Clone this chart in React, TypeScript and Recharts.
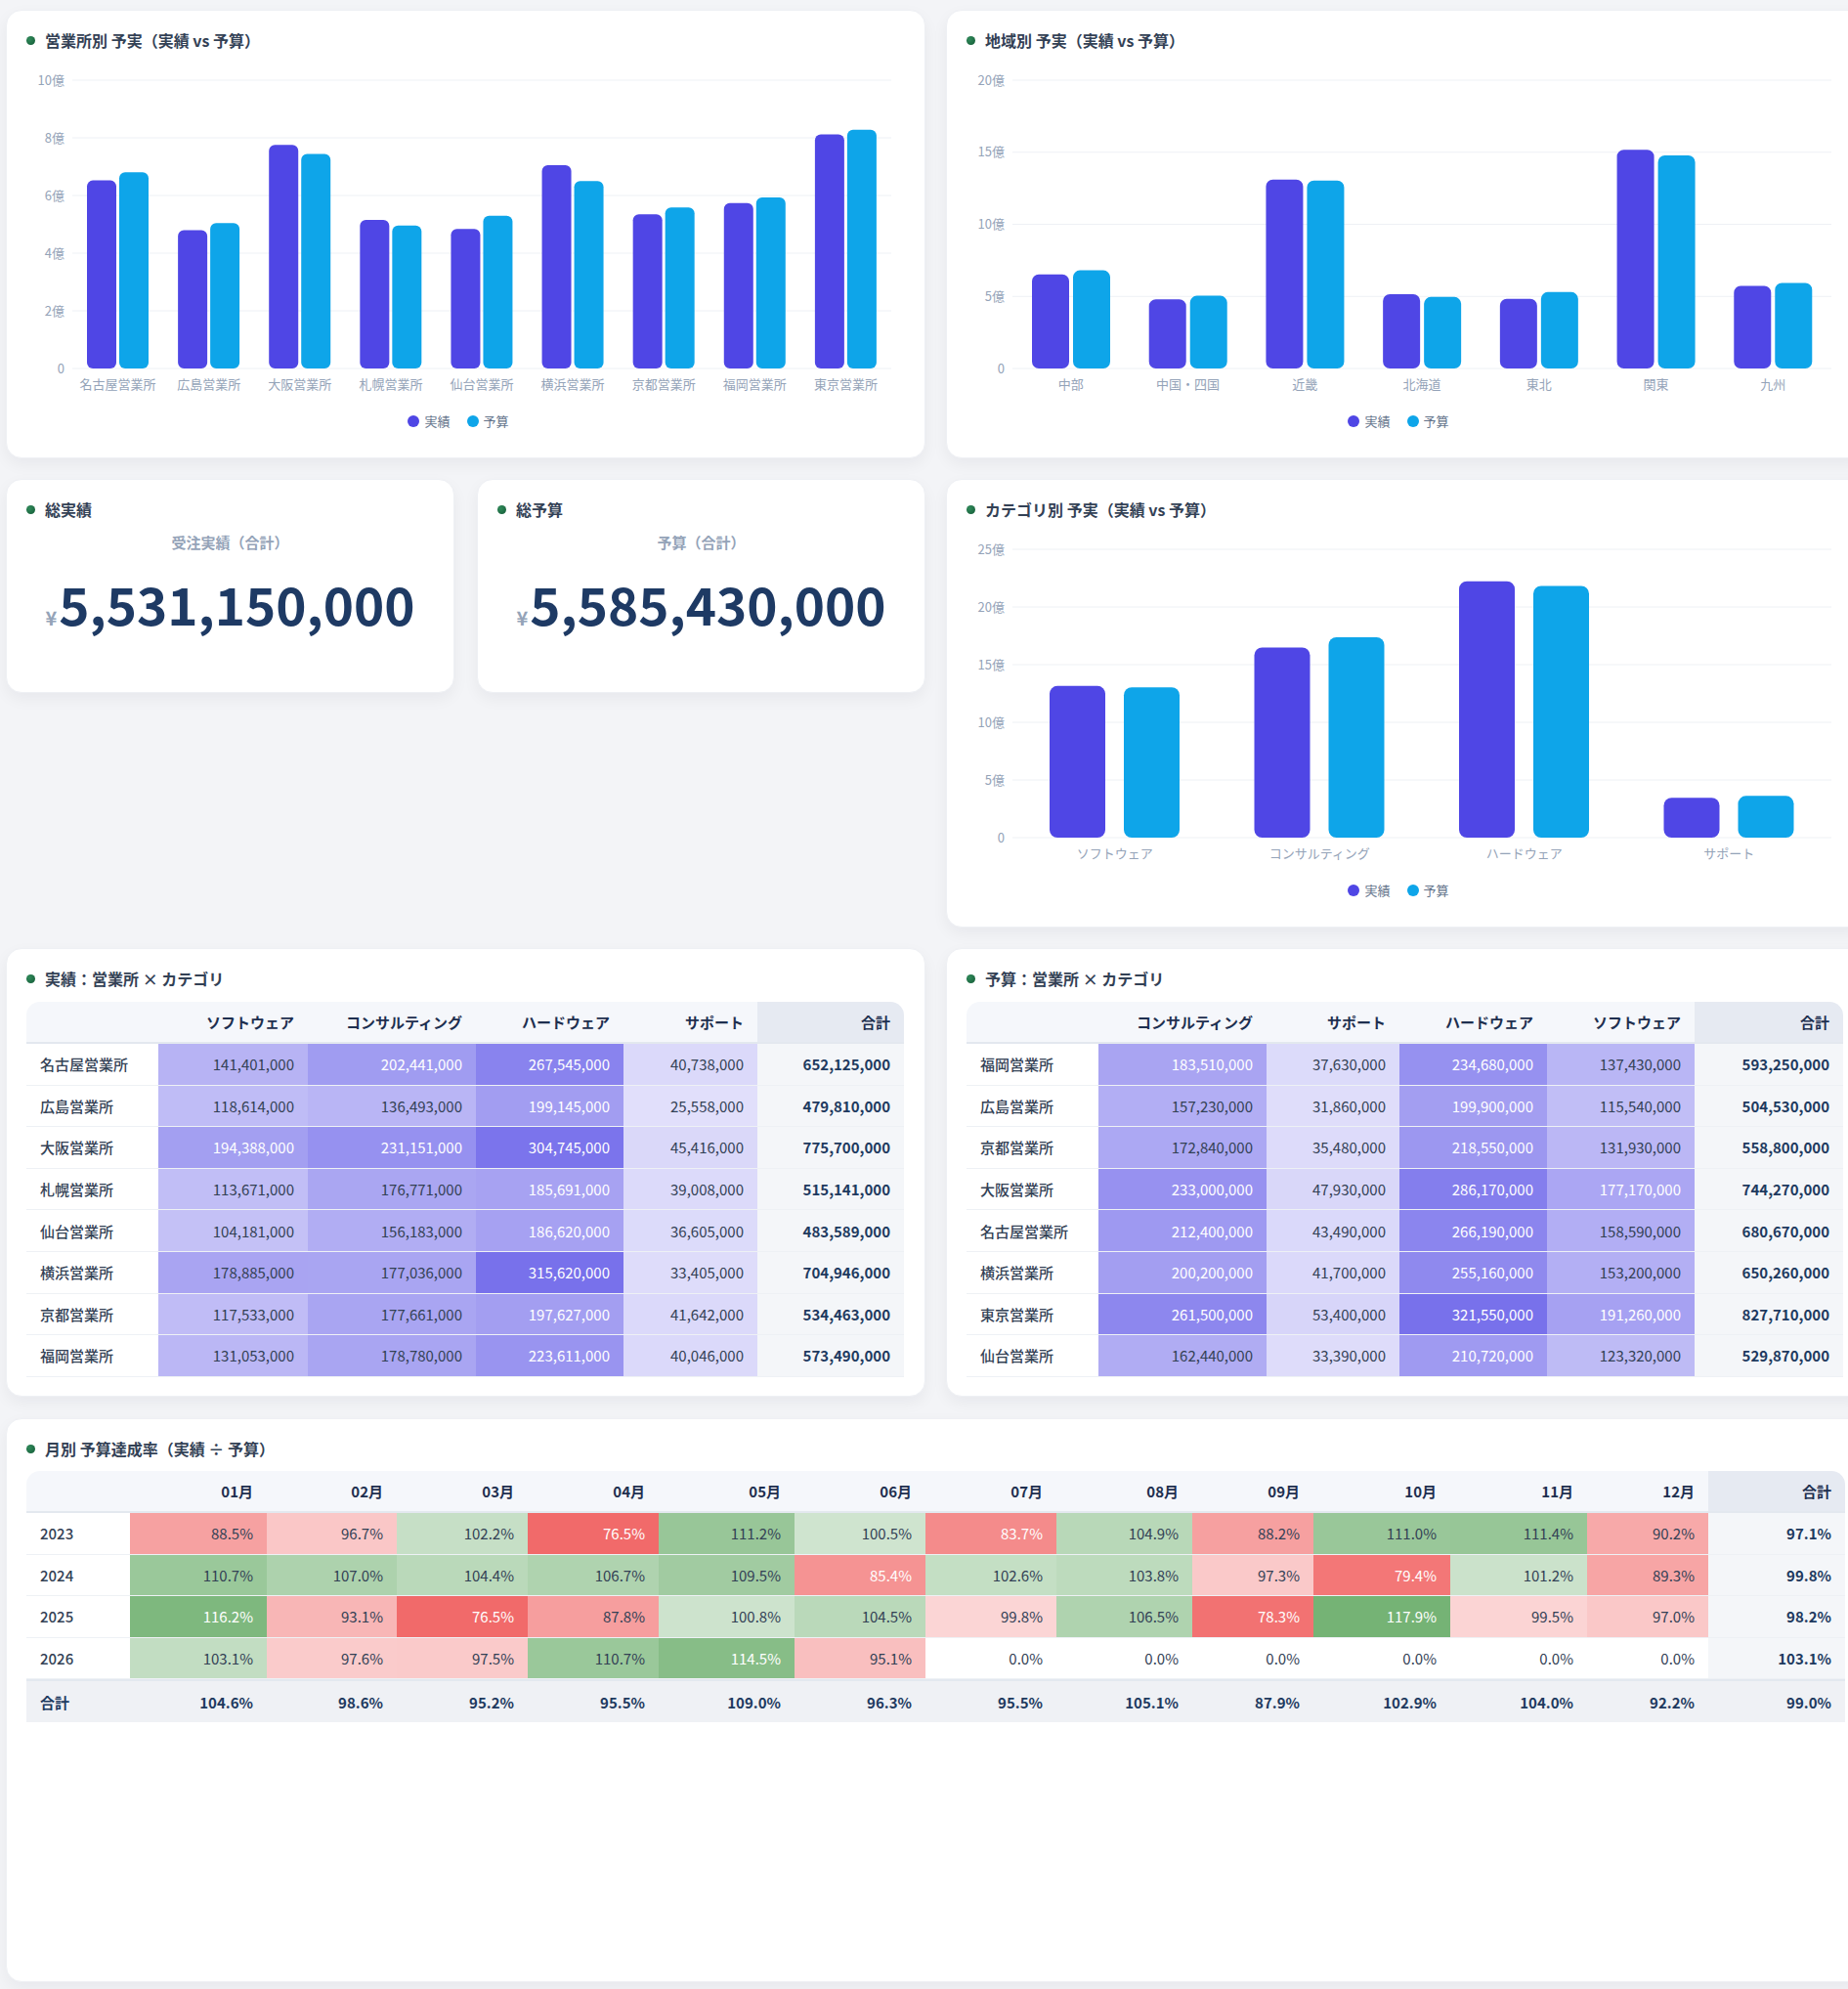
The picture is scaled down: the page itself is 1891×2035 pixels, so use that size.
import React from 'react';
import { BarChart, Bar, XAxis, YAxis, CartesianGrid, Legend } from 'recharts';

const ACTUAL_COLOR = '#4f46e5';
const BUDGET_COLOR = '#0ea5e9';
const FONT = '"Noto Sans CJK JP", "Noto Sans", sans-serif';

// 営業所別（円）
const offices = ['名古屋営業所', '広島営業所', '大阪営業所', '札幌営業所', '仙台営業所', '横浜営業所', '京都営業所', '福岡営業所', '東京営業所'];
const officeActual = [652125000, 479810000, 775700000, 515141000, 483589000, 704946000, 534463000, 573490000, 811886000];
const officeBudget = [680670000, 504530000, 744270000, 496070000, 529870000, 650260000, 558800000, 593250000, 827710000];

// 地域別（円）
const regions = ['中部', '中国・四国', '近畿', '北海道', '東北', '関東', '九州'];
const regionActual = [652125000, 479810000, 1310163000, 515141000, 483589000, 1516832000, 573490000];
const regionBudget = [680670000, 504530000, 1303070000, 496070000, 529870000, 1477970000, 593250000];

// カテゴリ別（円）
const categories = ['ソフトウェア', 'コンサルティング', 'ハードウェア', 'サポート'];
const categoryActual = [1314726000, 1648516000, 2222604000, 345304000];
const categoryBudget = [1303510000, 1737120000, 2182920000, 361880000];

const totalActual = 5531150000;
const totalBudget = 5585430000;

// 実績：営業所 × カテゴリ
const actualCols = ['ソフトウェア', 'コンサルティング', 'ハードウェア', 'サポート'];
const actualRowNames = ['名古屋営業所', '広島営業所', '大阪営業所', '札幌営業所', '仙台営業所', '横浜営業所', '京都営業所', '福岡営業所'];
const actualCells = [
    [141401000, 202441000, 267545000, 40738000],
    [118614000, 136493000, 199145000, 25558000],
    [194388000, 231151000, 304745000, 45416000],
    [113671000, 176771000, 185691000, 39008000],
    [104181000, 156183000, 186620000, 36605000],
    [178885000, 177036000, 315620000, 33405000],
    [117533000, 177661000, 197627000, 41642000],
    [131053000, 178780000, 223611000, 40046000],
];

// 予算：営業所 × カテゴリ
const budgetCols = ['コンサルティング', 'サポート', 'ハードウェア', 'ソフトウェア'];
const budgetRowNames = ['福岡営業所', '広島営業所', '京都営業所', '大阪営業所', '名古屋営業所', '横浜営業所', '東京営業所', '仙台営業所'];
const budgetCells = [
    [183510000, 37630000, 234680000, 137430000],
    [157230000, 31860000, 199900000, 115540000],
    [172840000, 35480000, 218550000, 131930000],
    [233000000, 47930000, 286170000, 177170000],
    [212400000, 43490000, 266190000, 158590000],
    [200200000, 41700000, 255160000, 153200000],
    [261500000, 53400000, 321550000, 191260000],
    [162440000, 33390000, 210720000, 123320000],
];

// 月別 予算達成率（%）
const months = ['01月', '02月', '03月', '04月', '05月', '06月', '07月', '08月', '09月', '10月', '11月', '12月'];
const years = ['2023', '2024', '2025', '2026'];
const monthlyRates = [
    [88.5, 96.7, 102.2, 76.5, 111.2, 100.5, 83.7, 104.9, 88.2, 111.0, 111.4, 90.2],
    [110.7, 107.0, 104.4, 106.7, 109.5, 85.4, 102.6, 103.8, 97.3, 79.4, 101.2, 89.3],
    [116.2, 93.1, 76.5, 87.8, 100.8, 104.5, 99.8, 106.5, 78.3, 117.9, 99.5, 97.0],
    [103.1, 97.6, 97.5, 110.7, 114.5, 95.1, 0, 0, 0, 0, 0, 0],
];
const yearTotals = [97.1, 99.8, 98.2, 103.1];
const monthTotals = [104.6, 98.6, 95.2, 95.5, 109.0, 96.3, 95.5, 105.1, 87.9, 102.9, 104.0, 92.2];
const grandTotal = 99.0;

const officeData = offices.map((name, i) => ({ name, actual: officeActual[i], budget: officeBudget[i] }));
const regionData = regions.map((name, i) => ({ name, actual: regionActual[i], budget: regionBudget[i] }));
const categoryData = categories.map((name, i) => ({ name, actual: categoryActual[i], budget: categoryBudget[i] }));

const yen = (v: number) => v.toLocaleString('ja-JP');
const oku = (v: number) => (v === 0 ? '0' : `${v / 1e8}億`);

const LEGEND_ORDER = ['実績', '予算'];

const renderLegend = (props: any) => {
    const items = [...(props.payload || [])].sort((a: any, b: any) => LEGEND_ORDER.indexOf(a.value) - LEGEND_ORDER.indexOf(b.value));
    return (
        <div style={{ display: 'flex', justifyContent: 'center', gap: 17, paddingTop: 14, fontSize: 13, lineHeight: '20px', color: '#64748b' }}>
            {items.map((p: any) => (
                <span key={p.value} style={{ display: 'flex', alignItems: 'center', gap: 5 }}>
                    <span style={{ width: 12, height: 12, borderRadius: 6, background: p.color, display: 'inline-block' }} />
                    {p.value}
                </span>
            ))}
        </div>
    );
};

function Card({ title, left, top, width, height, children }: any) {
    return (
        <div style={{
            position: 'absolute', left, top, width, height, background: '#fff', borderRadius: 16,
            border: '1px solid #eef0f4', boxSizing: 'border-box', boxShadow: '0 6px 16px rgba(15,23,42,0.05)', overflow: 'hidden'
        }}>
            <div style={{ position: 'absolute', left: 20, top: 20, height: 20, display: 'flex', alignItems: 'center' }}>
                <span style={{ width: 9, height: 9, borderRadius: 5, background: 'radial-gradient(circle at 35% 35%, #2f8a5a, #145a36)', marginRight: 10 }} />
                <span style={{ fontSize: 16, fontWeight: 700, color: '#334155' }}>{title}</span>
            </div>
            {children}
        </div>
    );
}

function PlanChart({ data, max, ticks, barSize, barGap, radius }: any) {
    return (
        <div style={{ position: 'absolute', left: -1, top: 51 }}>
            <BarChart width={941} height={407} data={data} margin={{ top: 20, right: 35, left: 20, bottom: 0 }} barSize={barSize} barGap={barGap}>
                <CartesianGrid vertical={false} stroke="#eef1f5" />
                <XAxis dataKey="name" axisLine={false} tickLine={false} interval={0} tickMargin={6} tick={{ fill: '#94a3b8', fontSize: 13 }} />
                <YAxis width={48} domain={[0, max]} ticks={ticks} tickFormatter={oku} axisLine={false} tickLine={false} tick={{ fill: '#94a3b8', fontSize: 13 }} />
                <Legend verticalAlign="bottom" height={62} content={renderLegend} />
                <Bar dataKey="actual" name="実績" fill={ACTUAL_COLOR} radius={radius} isAnimationActive={false} />
                <Bar dataKey="budget" name="予算" fill={BUDGET_COLOR} radius={radius} isAnimationActive={false} />
            </BarChart>
        </div>
    );
}

function Kpi({ title, label, value, left }: any) {
    return (
        <Card title={title} left={left} top={490} width={459} height={219}>
            <div style={{ position: 'absolute', left: 0, right: 0, top: 54, textAlign: 'center', fontSize: 15, fontWeight: 700, color: '#94a3b8', lineHeight: '20px' }}>{label}</div>
            <div style={{ position: 'absolute', left: 0, right: 0, top: 94, textAlign: 'center', lineHeight: '64px', whiteSpace: 'nowrap' }}>
                <span style={{ fontSize: 20, fontWeight: 700, color: '#94a3b8', marginRight: 2 }}>¥</span>
                <span style={{ fontSize: 53, fontWeight: 700, color: '#1e3a64' }}>{yen(value)}</span>
            </div>
        </Card>
    );
}

const th: React.CSSProperties = {
    background: '#f5f7fb', color: '#1e2f4f', fontWeight: 700, fontSize: 15, textAlign: 'right',
    padding: '0 14px', height: 41, borderBottom: '2px solid #e3e8ef', whiteSpace: 'nowrap'
};
const td: React.CSSProperties = {
    fontSize: 15, textAlign: 'right', padding: '0 14px', height: 41.6, borderBottom: '1px solid #eef1f5', whiteSpace: 'nowrap'
};

function HeatTable({ cols, rowNames, cells, widths, whiteAt }: any) {
    const max = Math.max(...cells.flat());
    const tableWidth = widths.reduce((a: number, b: number) => a + b, 0);
    return (
        <table style={{ position: 'absolute', left: 20, top: 54, width: tableWidth, tableLayout: 'fixed', borderCollapse: 'separate', borderSpacing: 0 }}>
            <colgroup>{widths.map((w: number, i: number) => <col key={i} style={{ width: w }} />)}</colgroup>
            <thead>
                <tr>
                    <th style={{ ...th, borderTopLeftRadius: 14 }} />
                    {cols.map((c: string) => <th key={c} style={th}>{c}</th>)}
                    <th style={{ ...th, background: '#e6eaf2', borderTopRightRadius: 14 }}>合計</th>
                </tr>
            </thead>
            <tbody>
                {rowNames.map((name: string, r: number) => {
                    const row = cells[r];
                    const sum = row.reduce((a: number, b: number) => a + b, 0);
                    return (
                        <tr key={name}>
                            <td style={{ ...td, textAlign: 'left', color: '#334155', fontWeight: 500, background: '#fff' }}>{name}</td>
                            {row.map((v: number, c: number) => {
                                const ratio = v / max;
                                return (
                                    <td key={c} style={{ ...td, background: `rgba(79,70,229,${0.12 + 0.65 * ratio})`, color: ratio >= whiteAt ? '#fff' : '#334155' }}>{yen(v)}</td>
                                );
                            })}
                            <td style={{ ...td, background: '#f4f6f9', color: '#1e3a5f', fontWeight: 700 }}>{yen(sum)}</td>
                        </tr>
                    );
                })}
            </tbody>
        </table>
    );
}

function rateStyle(v: number): React.CSSProperties {
    if (v === 0) return { background: '#fff', color: '#334155' };
    const dev = Math.abs(v - 100);
    const a = Math.min(0.8, 0.22 + 0.0245 * dev);
    const base = v >= 100 ? '46,140,46' : '238,68,68';
    return { background: `rgba(${base},${a})`, color: dev > 12.5 ? '#fff' : '#334155' };
}

const monthWidths = [106, 140, 133, 134, 134, 139, 134, 134, 139, 124, 140, 140, 124, 140];

function MonthlyTable() {
    const tableWidth = monthWidths.reduce((a, b) => a + b, 0);
    const totalRow: React.CSSProperties = { ...td, height: 42, background: '#eff1f5', color: '#1e3a5f', fontWeight: 700, borderTop: '2px solid #e3e8ef', borderBottom: 'none' };
    return (
        <table style={{ position: 'absolute', left: 20, top: 53, width: tableWidth, tableLayout: 'fixed', borderCollapse: 'separate', borderSpacing: 0 }}>
            <colgroup>{monthWidths.map((w, i) => <col key={i} style={{ width: w }} />)}</colgroup>
            <thead>
                <tr>
                    <th style={{ ...th, borderTopLeftRadius: 14 }} />
                    {months.map((m) => <th key={m} style={th}>{m}</th>)}
                    <th style={{ ...th, background: '#e6eaf2', borderTopRightRadius: 14 }}>合計</th>
                </tr>
            </thead>
            <tbody>
                {years.map((y, r) => (
                    <tr key={y}>
                        <td style={{ ...td, textAlign: 'left', color: '#334155', fontWeight: 500, background: '#fff' }}>{y}</td>
                        {monthlyRates[r].map((v, c) => (
                            <td key={c} style={{ ...td, ...rateStyle(v) }}>{v.toFixed(1)}%</td>
                        ))}
                        <td style={{ ...td, background: '#f4f6f9', color: '#1e3a5f', fontWeight: 700 }}>{yearTotals[r].toFixed(1)}%</td>
                    </tr>
                ))}
                <tr>
                    <td style={{ ...totalRow, textAlign: 'left' }}>合計</td>
                    {monthTotals.map((v, c) => <td key={c} style={totalRow}>{v.toFixed(1)}%</td>)}
                    <td style={totalRow}>{grandTotal.toFixed(1)}%</td>
                </tr>
            </tbody>
        </table>
    );
}

export default function App() {
    return (
        <div style={{ position: 'relative', width: 1920, height: 2035, fontFamily: FONT, background: '#f3f4f7' }}>
            <style>{`html, body { margin: 0; overflow: hidden; background: #f3f4f7; }`}</style>

            <Card title="営業所別 予実（実績 vs 予算）" left={6} top={10} width={941} height={459}>
                <PlanChart data={officeData} max={1e9} ticks={[0, 2e8, 4e8, 6e8, 8e8, 1e9]} barSize={30} barGap={3} radius={6} />
            </Card>

            <Card title="地域別 予実（実績 vs 予算）" left={968} top={10} width={941} height={459}>
                <PlanChart data={regionData} max={2e9} ticks={[0, 5e8, 1e9, 1.5e9, 2e9]} barSize={38} barGap={4} radius={7} />
            </Card>

            <Kpi title="総実績" label="受注実績（合計）" value={totalActual} left={6} />
            <Kpi title="総予算" label="予算（合計）" value={totalBudget} left={488} />

            <Card title="カテゴリ別 予実（実績 vs 予算）" left={968} top={490} width={941} height={459}>
                <PlanChart data={categoryData} max={2.5e9} ticks={[0, 5e8, 1e9, 1.5e9, 2e9, 2.5e9]} barSize={57} barGap={19} radius={8} />
            </Card>

            <Card title="実績：営業所 × カテゴリ" left={6} top={970} width={941} height={459}>
                <HeatTable cols={actualCols} rowNames={actualRowNames} cells={actualCells}
                    widths={[135, 153, 172, 151, 137, 150]} whiteAt={0.575} />
            </Card>

            <Card title="予算：営業所 × カテゴリ" left={968} top={970} width={941} height={459}>
                <HeatTable cols={budgetCols} rowNames={budgetRowNames} cells={budgetCells}
                    widths={[135, 172, 136, 151, 151, 152]} whiteAt={0.545} />
            </Card>

            <Card title="月別 予算達成率（実績 ÷ 予算）" left={6} top={1451} width={1903} height={577}>
                <MonthlyTable />
            </Card>
        </div>
    );
}
